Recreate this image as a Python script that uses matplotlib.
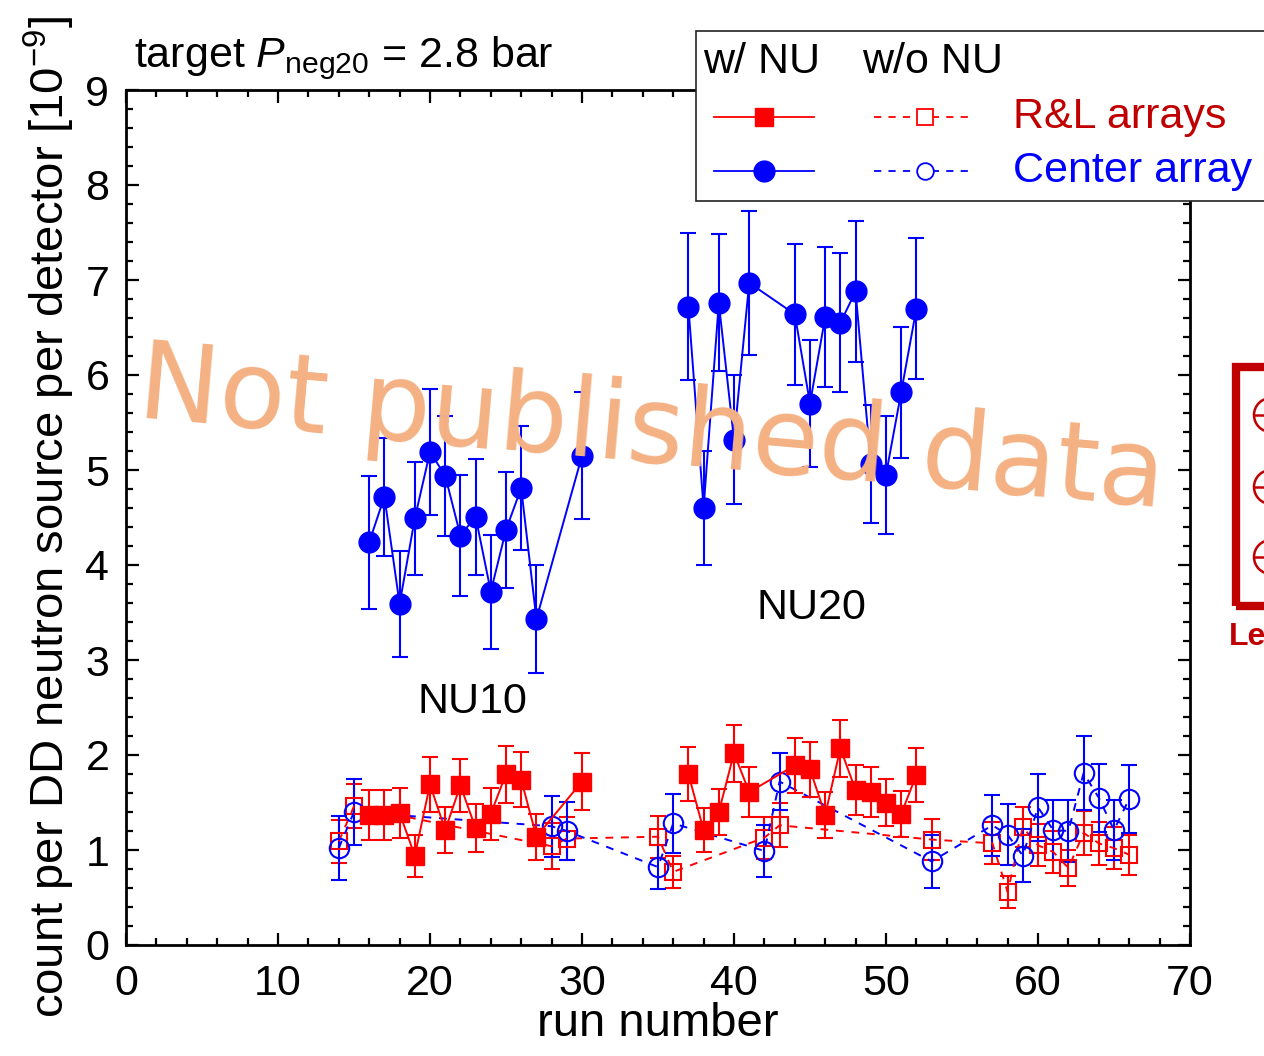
import numpy as np
import matplotlib
matplotlib.use("Agg")
from matplotlib import pyplot as plt
from matplotlib.lines import Line2D
from matplotlib.patches import Rectangle, Circle
from matplotlib.ticker import MultipleLocator

plt.rcParams['font.family'] = ['Liberation Sans', 'DejaVu Sans']
plt.rcParams['mathtext.fontset'] = 'custom'
plt.rcParams['mathtext.rm'] = 'Liberation Sans'
plt.rcParams['mathtext.it'] = 'Liberation Sans:italic'

# runs with the neutron unit (NU10 and NU20 sets)
runs_nu10 = [16, 17, 18, 19, 20, 21, 22, 23, 24, 25, 26, 27, 30]
center_nu10 = [4.24, 4.72, 3.59, 4.49, 5.19, 4.94, 4.31, 4.51, 3.72, 4.37, 4.81, 3.43, 5.15]
center_nu10_err = [0.70, 0.62, 0.56, 0.59, 0.66, 0.63, 0.64, 0.61, 0.60, 0.61, 0.65, 0.57, 0.67]
rl_nu10 = [1.37, 1.37, 1.39, 0.94, 1.69, 1.21, 1.68, 1.23, 1.38, 1.80, 1.74, 1.14, 1.72]
rl_nu10_err = [0.26, 0.26, 0.26, 0.22, 0.29, 0.24, 0.28, 0.25, 0.27, 0.30, 0.29, 0.24, 0.30]

runs_nu20 = [37, 38, 39, 40, 41, 44, 45, 46, 47, 48, 49, 50, 51, 52]
center_nu20 = [6.72, 4.60, 6.76, 5.32, 6.97, 6.64, 5.70, 6.61, 6.55, 6.88, 5.06, 4.95, 5.82, 6.70]
center_nu20_err = [0.77, 0.60, 0.72, 0.68, 0.76, 0.74, 0.67, 0.74, 0.73, 0.74, 0.62, 0.62, 0.69, 0.74]
rl_nu20 = [1.80, 1.21, 1.40, 2.02, 1.61, 1.89, 1.85, 1.37, 2.07, 1.63, 1.61, 1.50, 1.38, 1.79]
rl_nu20_err = [0.28, 0.23, 0.24, 0.30, 0.26, 0.29, 0.29, 0.24, 0.30, 0.26, 0.26, 0.25, 0.24, 0.28]

# runs without the neutron unit
runs_off = [14, 15, 28, 29, 35, 36, 42, 43, 53, 57, 58, 59, 60, 61, 62, 63, 64, 65, 66]
center_off = [1.02, 1.40, 1.25, 1.20, 0.82, 1.28, 0.99, 1.72, 0.88, 1.26,
              1.16, 0.94, 1.45, 1.21, 1.20, 1.81, 1.55, 1.21, 1.54]
center_off_err = [0.34, 0.35, 0.32, 0.31, 0.23, 0.31, 0.27, 0.30, 0.28, 0.32,
                  0.32, 0.28, 0.35, 0.32, 0.33, 0.39, 0.36, 0.32, 0.36]
rl_off = [1.09, 1.46, 1.04, 1.12, 1.14, 0.77, 1.13, 1.26, 1.11, 1.07,
          0.56, 1.24, 1.05, 0.98, 0.81, 1.18, 1.07, 1.02, 0.95]
rl_off_err = [0.23, 0.23, 0.24, 0.23, 0.22, 0.17, 0.22, 0.23, 0.22, 0.22,
              0.17, 0.21, 0.22, 0.22, 0.19, 0.23, 0.23, 0.22, 0.21]

RED = '#ff0000'
BLUE = '#0000ff'
DARKRED = '#c00000'
W, H = 1264, 1056

fig = plt.figure(figsize=(W / 100, H / 100), dpi=100)
ax = fig.add_axes([126 / W, 1 - 945 / H, (1190 - 126) / W, (945 - 90) / H])


def px(x, y):
    return x / W, 1 - y / H


eb = dict(elinewidth=1.5, capsize=6, capthick=1.5, lw=1.4)
dash = (0, (4, 4))

# without NU: open markers, dashed
ax.errorbar(runs_off, rl_off, yerr=rl_off_err, color=RED, ls=dash, marker='s', ms=12,
            mfc='none', mec=RED, mew=1.5, zorder=3, **eb)
ax.errorbar(runs_off, center_off, yerr=center_off_err, color=BLUE, ls=dash, marker='o', ms=14,
            mfc='none', mec=BLUE, mew=1.5, zorder=3, **eb)

# with NU: filled markers, solid
for runs, vals, errs in [(runs_nu10, center_nu10, center_nu10_err),
                         (runs_nu20, center_nu20, center_nu20_err)]:
    ax.errorbar(runs, vals, yerr=errs, color=BLUE, ls='-', marker='o', ms=15,
                mfc=BLUE, mec=BLUE, zorder=4, **eb)
for runs, vals, errs in [(runs_nu10, rl_nu10, rl_nu10_err),
                         (runs_nu20, rl_nu20, rl_nu20_err)]:
    ax.errorbar(runs, vals, yerr=errs, color=RED, ls='-', marker='s', ms=13,
                mfc=RED, mec=RED, zorder=4, **eb)

ax.set_xlim(0, 70)
ax.set_ylim(0, 9)
ax.xaxis.set_major_locator(MultipleLocator(10))
ax.xaxis.set_minor_locator(MultipleLocator(2))
ax.yaxis.set_major_locator(MultipleLocator(1))
ax.yaxis.set_minor_locator(MultipleLocator(0.2))
ax.tick_params(which='both', direction='in', top=True, right=True, width=1.6, labelsize=31)
ax.tick_params(which='major', length=9)
ax.tick_params(axis='x', which='major', pad=14)
ax.tick_params(axis='y', which='major', pad=12)
ax.tick_params(which='minor', length=5)
for s in ax.spines.values():
    s.set_linewidth(2)

ax.set_xlabel('run number', fontsize=34, labelpad=-2)
ax.set_ylabel(r'count per DD neutron source per detector [10$^{-9}$]', fontsize=34,
              labelpad=6)

ax.text(22.8, 2.56, 'NU10', fontsize=31, ha='center', va='center')
ax.text(45.1, 3.55, 'NU20', fontsize=31, ha='center', va='center')

fig.text(*px(134, 58), r'target $P_{\mathrm{neg20}}$ = 2.8 bar', fontsize=31,
         ha='left', va='center')

# legend drawn by hand
fig.patches.append(Rectangle(px(696, 201), (1300 - 696) / W, 170 / H,
                             transform=fig.transFigure, fill=True, fc='white',
                             ec='#222222', lw=1.2, zorder=10))
fig.text(*px(703, 62), 'w/ NU', fontsize=31, va='center', zorder=11)
fig.text(*px(862, 62), 'w/o NU', fontsize=31, va='center', zorder=11)
rows = [(117, RED, 's', 'R&L arrays', DARKRED), (171, BLUE, 'o', 'Center array', BLUE)]
for y, c, m, lab, tc in rows:
    x0, y0 = px(714, y)
    x1, _ = px(814, y)
    fig.lines.append(Line2D([x0, x1], [y0, y0], color=c, lw=1.3,
                            transform=fig.transFigure, zorder=11))
    fig.lines.append(Line2D([px(764, y)[0]], [y0], marker=m, ms=13 if m == 's' else 15,
                            color=c, transform=fig.transFigure, zorder=12))
    x0, _ = px(874, y)
    x1, _ = px(968, y)
    fig.lines.append(Line2D([x0, x1], [y0, y0], color=c, lw=1.3, ls=(0, (4, 4)),
                            transform=fig.transFigure, zorder=11))
    fig.lines.append(Line2D([px(925, y)[0]], [y0], marker=m, ms=11 if m == 's' else 12,
                            mfc='white', mec=c, mew=1.3,
                            transform=fig.transFigure, zorder=12))
    fig.text(*px(1013, y), lab, fontsize=31, color=tc, va='center', zorder=12)

# edge of the neighbouring panel
fig.patches.append(Rectangle(px(1236, 606), 300 / W, (606 - 367) / H,
                             transform=fig.transFigure, fill=False, ec=DARKRED,
                             lw=6, zorder=5))
for cy in [415, 487, 557]:
    cx, cyf = px(1271, cy)
    fig.patches.append(Circle((1271, H - cy), 17, transform=None, fill=False,
                              ec=DARKRED, lw=1.8, zorder=5))
    fig.lines.append(Line2D([px(1254, cy)[0], px(1290, cy)[0]], [cyf, cyf],
                            color=DARKRED, lw=1.8, transform=fig.transFigure, zorder=5))
fig.text(*px(1229, 637), 'Le', fontsize=23, fontweight='bold', color=DARKRED,
         va='center', ha='left')

# watermark
fig.text(*px(652, 432), 'Not published data', fontsize=78, color='#f4b183',
         family='DejaVu Sans', rotation=-5, rotation_mode='anchor',
         ha='center', va='center', zorder=20)

fig.savefig('out.png', dpi=100)
